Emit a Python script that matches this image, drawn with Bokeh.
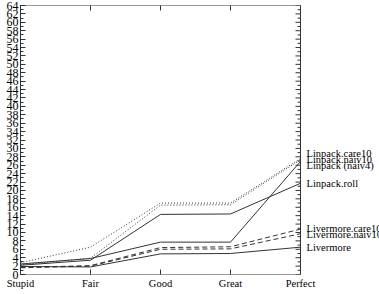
import math

from bokeh.plotting import figure
from bokeh.models import Range1d, LinearAxis, FixedTicker, SingleIntervalTicker
from bokeh.core.properties import value
from bokeh.embed import file_html
from bokeh.resources import INLINE

# Optimisation level categories along x
levels = ["Stupid", "Fair", "Good", "Great", "Perfect"]

# Speed-up per benchmark at each level
linpack_care10 = [2.8, 6.5, 17.0, 17.0, 27.6]
linpack_naiv10 = [2.3, 3.9, 16.5, 16.6, 27.3]
linpack_naiv4 = [2.5, 3.8, 7.7, 7.7, 26.9]
linpack_roll = [2.2, 3.4, 14.3, 14.4, 21.7]
livermore_care10 = [1.7, 2.1, 6.4, 6.6, 10.8]
livermore_naiv10 = [1.6, 2.0, 6.0, 6.1, 9.7]
livermore = [1.9, 1.8, 4.9, 5.0, 6.5]

series_names = ["Linpack.care10", "Linpack.naiv10", "Linpack (naiv4)", "Linpack.roll",
                "Livermore.care10", "Livermore.naiv10", "Livermore"]
series_values = [linpack_care10, linpack_naiv10, linpack_naiv4, linpack_roll,
                 livermore_care10, livermore_naiv10, livermore]
series_dash = ["1 2", "1 2", "solid", "solid", "5 3", "5 3", "solid"]

FONT = "Liberation Serif"
INK = "#333333"
Y_MAX = 64

W, H = 379, 294
LEFT, TOP, BOTTOM = 20, 5, 20
PLOT_W = 280  # width of the boxed area, from the first to the last level

x = list(range(len(levels)))
x_last = len(levels) - 1
# the x range runs past the last level so the series names fit inside the canvas
x_end = x_last * (W - LEFT) / PLOT_W

p = figure(width=W, height=H, output_backend="svg", toolbar_location=None,
           x_range=Range1d(0, x_end), y_range=Range1d(0, Y_MAX),
           min_border_left=LEFT, min_border_right=0, min_border_top=TOP,
           min_border_bottom=BOTTOM, x_axis_location=None, y_axis_location=None)
p.grid.visible = False
p.outline_line_color = None
p.background_fill_color = "white"
p.border_fill_color = "white"


def style_axis(ax, size="12px"):
    ax.axis_line_color = INK
    ax.major_tick_line_color = INK
    ax.minor_tick_line_color = INK
    ax.major_tick_in = 5
    ax.major_tick_out = 0
    ax.minor_tick_in = 3
    ax.minor_tick_out = 0
    ax.major_label_standoff = 2
    ax.major_label_text_font = FONT
    ax.major_label_text_font_size = size
    ax.major_label_text_color = "black"


def spread_labels(vals, gap):
    """Place end labels near their values while keeping them at least `gap` apart."""
    order = sorted(range(len(vals)), key=lambda i: vals[i])
    groups = [[i] for i in order]

    def layout(g):
        centre = sum(vals[i] for i in g) / len(g)
        n = len(g)
        return [centre + (k - (n - 1) / 2) * gap for k in range(n)]

    merged = True
    while merged:
        merged = False
        for j in range(len(groups) - 1):
            if layout(groups[j])[-1] + gap > layout(groups[j + 1])[0] + 1e-9:
                groups[j] = groups[j] + groups[j + 1]
                del groups[j + 1]
                merged = True
                break
    pos = [0.0] * len(vals)
    for g in groups:
        for i, y in zip(g, layout(g)):
            pos[i] = y
    return pos


# Left value axis with a tick at every unit, labelled every two
left = LinearAxis(ticker=SingleIntervalTicker(interval=2, num_minor_ticks=2))
style_axis(left)
p.add_layout(left, "left")

# Category axes below (labelled) and above (ticks only); their lines are drawn
# separately so the box closes at the last level
bottom = LinearAxis(ticker=FixedTicker(ticks=x, minor_ticks=[]),
                    major_label_overrides={i: lab for i, lab in enumerate(levels)})
style_axis(bottom, size="10.5px")
bottom.axis_line_color = None
bottom.major_label_standoff = 3
p.add_layout(bottom, "below")

top = LinearAxis(ticker=FixedTicker(ticks=x, minor_ticks=[]),
                 major_label_overrides={i: "" for i in x})
style_axis(top)
top.axis_line_color = None
top.major_label_standoff = 0
p.add_layout(top, "above")

# Box edges: bottom, top and the right-hand value scale at the last level
p.segment(x0=[0, 0, x_last], y0=[0, Y_MAX, 0], x1=[x_last, x_last, x_last],
          y1=[0, Y_MAX, Y_MAX], line_color=INK, line_width=1)
unit_ticks = list(range(0, Y_MAX + 1))
p.ray(x=[x_last] * len(unit_ticks), y=unit_ticks,
      length=[5 if t % 2 == 0 else 3 for t in unit_ticks], length_units="screen",
      angle=math.pi, line_color=INK, line_width=1)

for vals, dash in zip(series_values, series_dash):
    p.line(x, vals, line_color=INK, line_width=1, line_dash=dash)

# Series names at the right-hand end of each line
ends = [vals[-1] for vals in series_values]
label_y = spread_labels(ends, 1.45)
p.text(x=[x_last] * len(series_names), y=label_y, text=series_names, x_offset=6,
       text_baseline="middle", text_align="left", text_font=value(FONT),
       text_font_size="10.5px", text_color="black")

open("out.html", "w").write(file_html(p, INLINE))
